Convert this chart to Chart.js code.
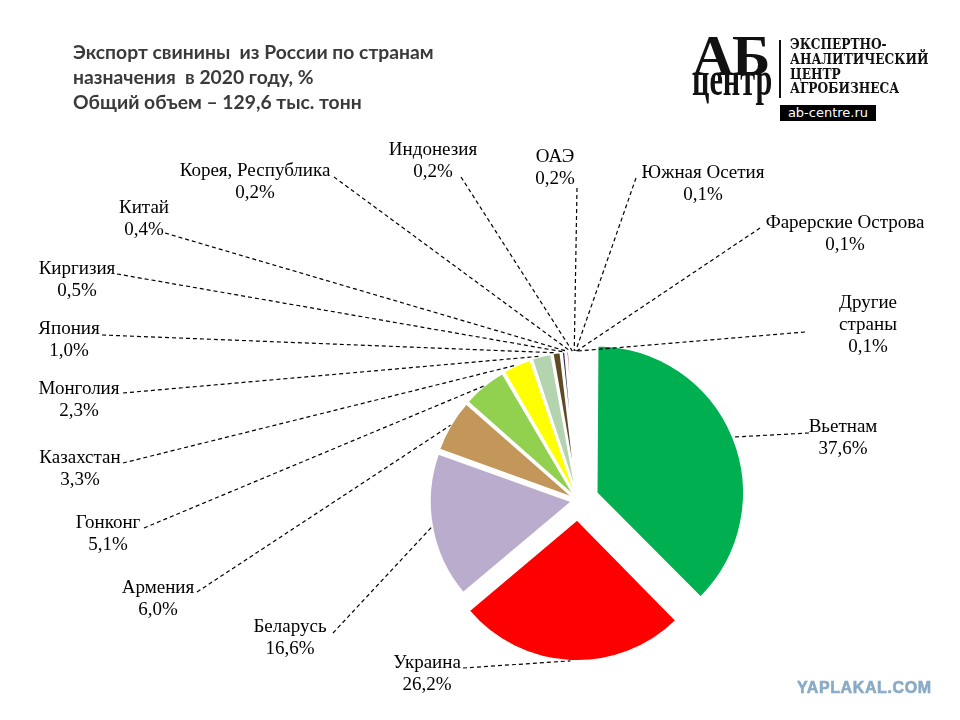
<!DOCTYPE html>
<html lang="ru">
<head>
<meta charset="utf-8">
<script src="https://cdn.jsdelivr.net/npm/chart.js@4.4.1/dist/chart.umd.min.js"></script>
<style>
  html, body { margin: 0; padding: 0; background: #fff; }
  #wrap { position: relative; width: 960px; height: 720px; overflow: hidden; }
  #wrap > div { position: absolute; white-space: pre; }
  .title { left: 73px; top: 39px; font: bold 19.3px Lato, sans-serif; line-height: 25px; color: #3a3a3a; }
  .logo-ab { left: 692px; top: 27px; font: bold 58px "Liberation Serif", "Times New Roman", serif; line-height: 58px; letter-spacing: -2px; color: #111; }
  .logo-centr { left: 692px; top: 55px; font: bold 48px "Liberation Serif", "Times New Roman", serif; line-height: 48px; color: #111; transform: scaleX(0.63); transform-origin: 0 0; }
  .logo-bar { left: 779px; top: 40px; width: 2px; height: 58px; background: #111; }
  .logo-text { left: 790px; top: 37px; font: bold 14px "DejaVu Serif", serif; line-height: 14.8px; color: #111; transform: scaleX(0.87); transform-origin: 0 0; }
  .logo-url { left: 780px; top: 105px; width: 96px; height: 16px; background: #000; color: #fff; font: 13px "DejaVu Sans", sans-serif; line-height: 16px; text-align: center; }
  .wm { left: 797px; top: 679px; font: bold 16px "Liberation Sans", Arial, sans-serif; color: #8aabc6; letter-spacing: 0.6px; -webkit-text-stroke: 0.6px #8aabc6; }
</style>
</head>
<body>
<div id="wrap">
  <canvas id="chart"></canvas>
  <div class="title">Экспорт свинины  из России по странам
назначения  в 2020 году, %
Общий объем – 129,6 тыс. тонн</div>
  <div class="logo-ab">АБ</div>
  <div class="logo-centr">центр</div>
  <div class="logo-bar"></div>
  <div class="logo-text">ЭКСПЕРТНО-
АНАЛИТИЧЕСКИЙ
ЦЕНТР
АГРОБИЗНЕСА</div>
  <div class="logo-url">ab-centre.ru</div>
  <div class="wm">YAPLAKAL.COM</div>
</div>
<script>
const countries = ['Вьетнам', 'Украина', 'Беларусь', 'Армения', 'Гонконг', 'Казахстан', 'Монголия', 'Япония',
  'Киргизия', 'Китай', 'Корея, Республика', 'Индонезия', 'ОАЭ', 'Южная Осетия', 'Фарерские Острова', 'Другие страны']
const shares = [37.6, 26.2, 16.6, 6.0, 5.1, 3.3, 2.3, 1.0, 0.5, 0.4, 0.2, 0.2, 0.2, 0.1, 0.1, 0.1]
const colors = ['#00b050', '#ff0000', '#b9accd', '#c39659', '#92d050', '#ffff00', '#b3d4ae', '#604a24',
  '#33294c', '#6b1c2c', '#9c7b6e', '#c9b79c', '#d3cbbd', '#b2b2b2', '#dadada', '#5b9bd5']
// explode amount, chart.js moves an arc by offset/4
const explode = [80, 76, 24, 16, 16, 16, 16, 16, 16, 16, 16, 16, 16, 16, 16, 16]

// label placement: text centre x, first line y, leader start x, leader start y
const labelPos = [
  [843, 427, 809, 433], [427, 663, 463, 668], [290, 627, 333, 633], [158, 588, 197, 592],
  [108, 523, 144, 528], [80, 458, 123, 463], [79, 389, 123, 393], [69, 329, 102, 335],
  [77, 269, 117, 274], [144, 208, 165, 233], [255, 171, 334, 177], [433, 150, 461, 177],
  [555, 157, 577, 188], [703, 173, 636, 178], [845, 223, 760, 228], [868, 303, 805, 332]
]
const wrapNames = { 'Другие страны': ['Другие', 'страны'] }

function pct(v) {
  return v.toFixed(1).replace('.', ',') + '%'
}

const leaders = {
  id: 'leaders',
  afterDatasetsDraw(chart) {
    const ctx = chart.ctx
    const arcs = chart.getDatasetMeta(0).data
    ctx.save()
    ctx.strokeStyle = '#000'
    ctx.lineWidth = 1.2
    ctx.setLineDash([4, 3])
    arcs.forEach((arc, i) => {
      const p = arc.getProps(['x', 'y', 'startAngle', 'endAngle', 'outerRadius', 'circumference'], true)
      const mid = (p.startAngle + p.endAngle) / 2
      const off = explode[i] / 4
      const fix = 1 - Math.sin(Math.min(Math.PI, p.circumference))
      const r = p.outerRadius + off * fix
      const ex = p.x + Math.cos(mid) * (off + r)
      const ey = p.y + Math.sin(mid) * (off + r)
      const lp = labelPos[i]
      ctx.beginPath()
      ctx.moveTo(lp[2], lp[3])
      ctx.lineTo(ex, ey)
      ctx.stroke()
    })
    ctx.setLineDash([])
    ctx.fillStyle = '#000'
    ctx.font = '19px "Liberation Serif", "Times New Roman", serif'
    ctx.textAlign = 'center'
    ctx.textBaseline = 'middle'
    countries.forEach((name, i) => {
      const lines = (wrapNames[name] || [name]).concat([pct(shares[i])])
      const lp = labelPos[i]
      lines.forEach((t, k) => ctx.fillText(t, lp[0], lp[1] + k * 22))
    })
    ctx.restore()
  }
}

new Chart(document.getElementById('chart'), {
  type: 'pie',
  data: {
    labels: countries,
    datasets: [{
      data: shares,
      backgroundColor: colors,
      borderColor: '#ffffff',
      borderWidth: 2,
      offset: explode,
      hoverOffset: 0
    }]
  },
  options: {
    responsive: true,
    maintainAspectRatio: false,
    animation: false,
    layout: { padding: { left: 395, top: 318, right: 199, bottom: 37 } },
    plugins: {
      legend: { display: false },
      tooltip: { enabled: false }
    }
  },
  plugins: [leaders]
})
</script>
</body>
</html>
